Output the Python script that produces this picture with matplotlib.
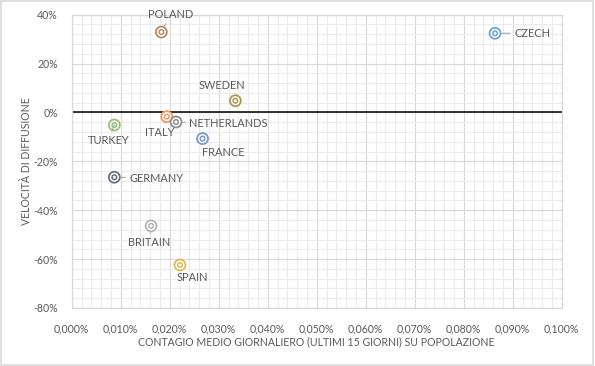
import matplotlib
matplotlib.use("Agg")
import matplotlib.pyplot as plt
from matplotlib.ticker import MultipleLocator, FuncFormatter
from matplotlib.patches import Rectangle

countries = ["POLAND", "CZECH", "SWEDEN", "ITALY", "NETHERLANDS", "FRANCE",
             "TURKEY", "GERMANY", "BRITAIN", "SPAIN"]
contagio = [0.0183, 0.0864, 0.0334, 0.0194, 0.0213, 0.0267,
            0.0087, 0.0087, 0.0162, 0.0221]          # % of population per day
velocita = [32.9, 32.4, 4.8, -1.7, -3.9, -10.7,
            -5.1, -26.5, -46.4, -62.4]               # %
colors = ["#B88A66", "#6BA5DA", "#AE9A4E", "#F09A64", "#8E8E8E", "#7A97D3",
          "#95C476", "#67707F", "#B5B5B5", "#DDBA55"]
# label offsets in pixels (dx, dy) and alignment
offsets = [(9, 18, "center"), (19, 0, "left"), (-13, 15, "center"), (-7, -16, "center"),
           (13, -2, "left"), (21, -14, "center"), (-6, -16, "center"), (15, -1, "left"),
           (-2, -17, "center"), (12, -13, "center")]
leaders = [True, True, False, True, True, False, True, True, True, False]

plt.rcParams['font.family'] = ['Lato', 'DejaVu Sans']
txt = "#595959"

fig = plt.figure(figsize=(5.95, 3.66), dpi=100)
fig.patches.append(Rectangle((0.002, 0.003), 0.995, 0.994, transform=fig.transFigure,
                             fill=False, edgecolor="#D9D9D9", linewidth=1.2))
ax = fig.add_axes([71.7/595, 1-308/366, (561.7-71.7)/595, (308-14.7)/366])

ax.set_xlim(0, 0.1)
ax.set_ylim(-80, 40)
ax.xaxis.set_major_locator(MultipleLocator(0.01))
ax.xaxis.set_minor_locator(MultipleLocator(0.002))
ax.yaxis.set_major_locator(MultipleLocator(20))
ax.yaxis.set_minor_locator(MultipleLocator(4))
ax.grid(which="major", color="#D9D9D9", linewidth=0.9)
ax.grid(which="minor", color="#ECECEC", linewidth=0.8)
ax.set_axisbelow(True)
for s in ax.spines.values():
    s.set_color("#D9D9D9")
    s.set_linewidth(0.9)
ax.axhline(0, color="black", linewidth=1.1, zorder=2)
ax.tick_params(which="both", length=0, labelsize=7.6, labelcolor=txt)
ax.tick_params(axis="x", pad=11)
ax.tick_params(axis="y", pad=10)
ax.xaxis.set_major_formatter(FuncFormatter(lambda v, p: f"{v:.3f}%".replace(".", ",")))
ax.yaxis.set_major_formatter(FuncFormatter(lambda v, p: f"{v:.0f}%"))

ax.scatter(contagio, velocita, s=62, facecolor="white", edgecolors=colors,
           linewidths=1.3, zorder=3)
ax.scatter(contagio, velocita, s=11, facecolor="none", edgecolors=colors,
           linewidths=1.1, zorder=4)

for c, x, y, (dx, dy, ha), ld in zip(countries, contagio, velocita, offsets, leaders):
    ap = dict(arrowstyle="-", color="#A6A6A6", lw=0.8, shrinkA=1, shrinkB=5) if ld else None
    ax.annotate(c, (x, y), xytext=(dx, dy), textcoords="offset pixels",
                ha=ha, va="center", fontsize=7.9, color=txt, arrowprops=ap, zorder=5)

fig.text(316/595, 1-342/366, "CONTAGIO MEDIO GIORNALIERO (ULTIMI 15 GIORNI) SU POPOLAZIONE",
         ha="center", va="center", fontsize=7.6, color=txt)
fig.text(27/595, 1-161/366, "VELOCITÀ DI DIFFUSIONE", rotation=90,
         ha="center", va="center", fontsize=7.6, color=txt)

fig.savefig("out.png", dpi=100)
